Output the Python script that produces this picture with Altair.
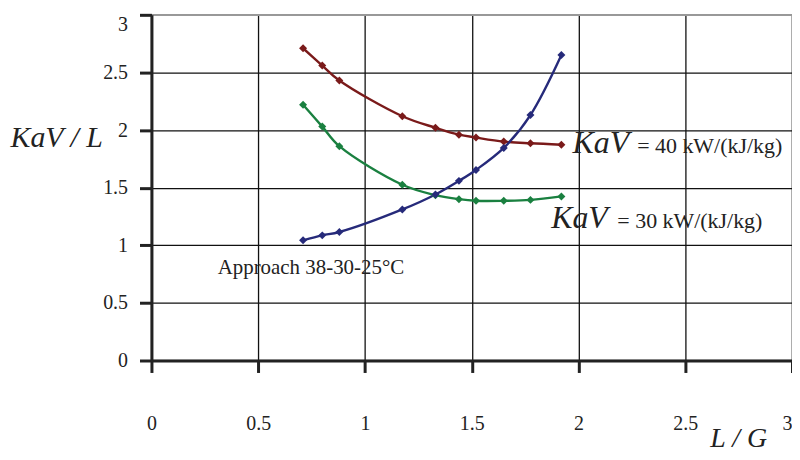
import altair as alt
import pandas as pd

# ---- data ----
lg = [0.71, 0.80, 0.88, 1.175, 1.33, 1.44, 1.52, 1.65, 1.775, 1.92]
kav40 = [2.71, 2.56, 2.43, 2.12, 2.02, 1.96, 1.935, 1.90, 1.885, 1.873]
kav30 = [2.22, 2.03, 1.86, 1.525, 1.435, 1.40, 1.386, 1.386, 1.394, 1.424]
approach = [1.043, 1.086, 1.115, 1.311, 1.441, 1.559, 1.654, 1.845, 2.13, 2.651]

series_names = ["KaV40", "KaV30", "Approach"]
series_colors = ["#7a1a1a", "#1a8040", "#262a7a"]
tick_values = [0, 0.5, 1, 1.5, 2, 2.5, 3]

# annotation texts and their anchor points (data units)
ann_text = ["KaV", "= 40 kW/(kJ/kg)", "KaV", "= 30 kW/(kJ/kg)", "Approach 38-30-25°C"]
ann_x = [1.972, 2.275, 1.872, 2.182, 0.31]
ann_y = [1.801, 1.801, 1.153, 1.153, 0.749]
ann_kind = ["big", "small", "big", "small", "approach"]

rows = []
for name, vals in zip(series_names, [kav40, kav30, approach]):
    for x, y in zip(lg, vals):
        rows.append({"series": name, "x": x, "y": y})
df = pd.DataFrame(rows)
ann = pd.DataFrame({"text": ann_text, "x": ann_x, "y": ann_y, "kind": ann_kind})

serif = "Liberation Serif"
grid_color = {"condition": {"test": "datum.value >= 3", "value": "#999999"}, "value": "#111111"}

xscale = alt.Scale(domain=[0, 3], nice=False, zero=False)
yscale = alt.Scale(domain=[0, 3], nice=False, zero=False)
color = alt.Color("series:N", scale=alt.Scale(domain=series_names, range=series_colors), legend=None)

xaxis = alt.Axis(values=tick_values, format="~g", title="L / G", titleFont=serif,
                 titleFontStyle="italic", titleFontWeight="normal", titleFontSize=28,
                 titleColor="#222", titleX=589, titleY=86, titleAlign="center",
                 titleBaseline="alphabetic", labelFont=serif, labelFontSize=20,
                 labelColor="#222", tickSize=12, tickWidth=3, tickColor="#222",
                 labelPadding=41, domainWidth=3, domainColor="#222",
                 labelAlign={"condition": {"test": "datum.value >= 3", "value": "right"},
                             "value": "center"},
                 gridColor=grid_color, gridWidth=1.3, labelFlush=False)
yaxis = alt.Axis(values=tick_values, format="~g", title="KaV / L", titleFont=serif,
                 titleFontStyle="italic", titleFontWeight="normal", titleFontSize=30,
                 titleColor="#222", titleAngle=0, titleX=-142, titleY=132,
                 titleAlign="left", titleBaseline="alphabetic", labelFont=serif,
                 labelFontSize=20, labelColor="#222", tickSize=12, tickWidth=3,
                 tickColor="#222", labelPadding=12, domainWidth=3, domainColor="#222",
                 labelBaseline={"condition": {"test": "datum.value >= 3", "value": "top"},
                                "value": "middle"},
                 gridColor=grid_color, gridWidth=1.3, labelFlush=False)

base = alt.Chart(df)
lines = base.mark_line(interpolate="catmull-rom", strokeWidth=2.4).encode(
    x=alt.X("x:Q", scale=xscale, axis=xaxis),
    y=alt.Y("y:Q", scale=yscale, axis=yaxis),
    color=color,
    detail="series:N",
)
points = base.mark_point(shape="diamond", filled=True, size=64, opacity=1).encode(
    x=alt.X("x:Q", scale=xscale),
    y=alt.Y("y:Q", scale=yscale),
    color=color,
)

ann_base = alt.Chart(ann)
big = ann_base.transform_filter("datum.kind == 'big'").mark_text(
    font=serif, fontSize=32, fontStyle="italic", align="left", baseline="alphabetic",
    color="#222").encode(x=alt.X("x:Q", scale=xscale), y=alt.Y("y:Q", scale=yscale), text="text:N")
small = ann_base.transform_filter("datum.kind == 'small'").mark_text(
    font=serif, fontSize=22, align="left", baseline="alphabetic",
    color="#222").encode(x=alt.X("x:Q", scale=xscale), y=alt.Y("y:Q", scale=yscale), text="text:N")
appr = ann_base.transform_filter("datum.kind == 'approach'").mark_text(
    font=serif, fontSize=21, align="left", baseline="alphabetic",
    color="#222").encode(x=alt.X("x:Q", scale=xscale), y=alt.Y("y:Q", scale=yscale), text="text:N")

chart = alt.layer(lines, points, big, small, appr).properties(
    width=643, height=347,
    autosize=alt.AutoSizeParams(type="none"),
    padding={"left": 144, "top": 6, "right": 0, "bottom": 91},
    background="white",
).configure_view(stroke="#999999", strokeWidth=1.5)

chart.save("out.html", embed_options={"renderer": "svg", "actions": False})
